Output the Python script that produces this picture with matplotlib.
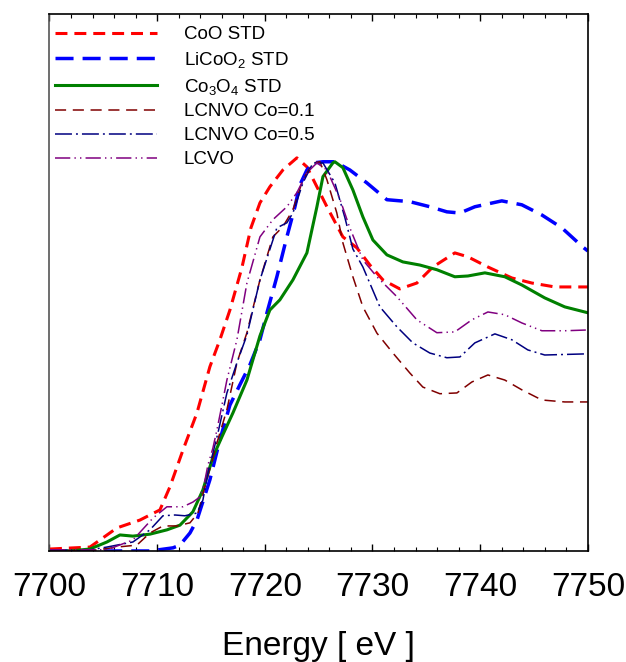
import numpy as np
import matplotlib
matplotlib.use("Agg")
import matplotlib.pyplot as plt

plt.rcParams['font.family'] = ['Liberation Sans', 'DejaVu Sans']
plt.rcParams['mathtext.default'] = 'regular'
plt.rcParams['lines.scale_dashes'] = False

E0 = 7700.0

# Co K-edge XANES, energy offsets from 7700 eV and normalised absorption
coo_e = [0.05, 3.76, 6.27, 8.4, 10.26, 11.19, 12.4, 13.7, 14.9, 15.83, 16.76, 17.87,
         18.71, 19.55, 20.47, 21.68, 22.98, 23.91, 24.84, 25.77, 27.25, 28.55, 29.76,
         30.97, 32.54, 34.12, 35.61, 37.65, 38.86, 40.72, 42.94, 44.8, 46.94, 50.0]
coo_mu = [0.005, 0.010, 0.059, 0.079, 0.105, 0.164, 0.258, 0.353, 0.471, 0.540, 0.616, 0.724,
          0.826, 0.890, 0.931, 0.974, 1.005, 0.982, 0.931, 0.880, 0.803, 0.775, 0.731,
          0.693, 0.670, 0.685, 0.726, 0.762, 0.752, 0.726, 0.698, 0.685, 0.675, 0.675]

licoo2_e = [0.05, 9.33, 11.47, 12.12, 13.05, 13.7, 14.9, 15.83, 16.76, 17.69, 18.62, 19.55,
            20.2, 21.12, 22.05, 22.8, 23.26, 23.91, 24.47, 25.4, 26.51, 27.9, 29.48, 31.34,
            33.47, 35.33, 36.91, 38.12, 39.51, 42.01, 43.87, 45.73, 47.59, 49.54, 50.0]
licoo2_mu = [0.0, 0.0, 0.008, 0.015, 0.046, 0.079, 0.182, 0.284, 0.373, 0.425, 0.476, 0.540,
             0.609, 0.701, 0.803, 0.880, 0.936, 0.974, 0.992, 0.995, 0.995, 0.974, 0.941, 0.898,
             0.893, 0.880, 0.867, 0.864, 0.880, 0.895, 0.885, 0.859, 0.826, 0.777, 0.767]

co3o4_e = [0.05, 1.9, 3.76, 5.34, 6.55, 7.75, 9.33, 10.91, 12.12, 13.32, 14.25, 15.18, 16.02,
           17.04, 18.34, 19.55, 20.47, 21.4, 22.61, 23.91, 24.84, 25.4, 26.32, 26.51, 27.25,
           28.18, 29.11, 30.04, 31.34, 32.82, 34.4, 35.98, 37.65, 38.86, 40.44, 42.29, 43.87,
           46.0, 47.86, 50.0]
co3o4_mu = [0.0, 0.0, 0.005, 0.023, 0.041, 0.038, 0.043, 0.054, 0.066, 0.100, 0.156, 0.240, 0.292,
            0.353, 0.437, 0.550, 0.616, 0.642, 0.693, 0.762, 0.880, 0.957, 0.992, 0.995, 0.980,
            0.923, 0.854, 0.795, 0.757, 0.739, 0.731, 0.719, 0.701, 0.703, 0.711, 0.701, 0.680,
            0.647, 0.624, 0.609]

lcnvo01_e = [0.05, 3.76, 6.27, 8.12, 9.33, 10.54, 11.84, 13.05, 13.79, 14.62, 15.55, 16.48,
             17.41, 18.34, 19.55, 20.75, 21.68, 22.61, 23.54, 24.47, 25.12, 25.77, 26.69, 27.25,
             28.18, 29.11, 30.41, 31.9, 33.47, 34.68, 36.26, 37.84, 39.23, 40.72, 42.29, 43.87,
             45.73, 47.86, 50.0]
lcnvo01_mu = [0.003, 0.0, 0.010, 0.015, 0.046, 0.064, 0.064, 0.072, 0.097, 0.182, 0.276, 0.361,
              0.481, 0.558, 0.693, 0.803, 0.829, 0.872, 0.949, 0.992, 0.995, 0.949, 0.864, 0.788,
              0.701, 0.624, 0.557, 0.506, 0.455, 0.419, 0.402, 0.404, 0.432, 0.450, 0.437, 0.412,
              0.386, 0.381, 0.381]

lcnvo05_e = [0.05, 3.1, 5.34, 7.75, 9.33, 10.54, 11.66, 12.58, 13.7, 14.25, 14.72, 15.65, 16.48,
             17.41, 18.34, 19.55, 21.12, 22.05, 22.61, 23.54, 24.47, 25.4, 26.51, 27.44, 28.18,
             29.11, 30.69, 32.27, 33.75, 35.33, 36.91, 38.12, 39.51, 41.37, 42.94, 44.43, 46.0,
             50.0]
lcnvo05_mu = [0.003, 0.0, 0.010, 0.023, 0.054, 0.090, 0.092, 0.090, 0.097, 0.130, 0.199, 0.302,
              0.404, 0.481, 0.552, 0.693, 0.826, 0.839, 0.864, 0.941, 0.992, 0.992, 0.941, 0.852,
              0.772, 0.726, 0.624, 0.573, 0.532, 0.506, 0.494, 0.496, 0.532, 0.555, 0.540, 0.514,
              0.501, 0.504]

lcvo_e = [0.05, 5.34, 7.75, 9.61, 10.91, 12.4, 13.32, 13.97, 14.35, 14.72, 15.18, 15.55, 16.02,
          16.48, 17.41, 18.34, 19.55, 20.75, 22.05, 22.98, 23.91, 24.84, 25.77, 26.97, 27.9,
          29.11, 30.41, 32.27, 34.12, 35.98, 37.65, 39.23, 40.72, 42.29, 43.87, 45.73, 47.86,
          50.0]
lcvo_mu = [0.003, 0.003, 0.028, 0.084, 0.113, 0.113, 0.125, 0.138, 0.168, 0.220, 0.263, 0.309,
           0.373, 0.437, 0.540, 0.685, 0.803, 0.847, 0.880, 0.916, 0.967, 0.992, 0.974, 0.900,
           0.826, 0.744, 0.701, 0.650, 0.591, 0.558, 0.560, 0.591, 0.611, 0.604, 0.583, 0.563,
           0.563, 0.565]

xticks = [7700, 7710, 7720, 7730, 7740, 7750]

fig = plt.figure(figsize=(6.26, 6.62), dpi=100)
ax = fig.add_axes([0.079, 0.1677, 0.86, 0.8113])

def ev(offsets):
    return E0 + np.asarray(offsets)

ax.plot(ev(coo_e), coo_mu, color='#FF0000', lw=2.2, dashes=(8.6, 5.0), label='CoO STD')
ax.plot(ev(licoo2_e), licoo2_mu, color='#0000FF', lw=2.5, dashes=(13.0, 6.5),
        label='LiCoO$_2$ STD')
ax.plot(ev(co3o4_e), co3o4_mu, color='#008000', lw=2.2, label='Co$_3$O$_4$ STD')
ax.plot(ev(lcnvo01_e), lcnvo01_mu, color='#800000', lw=1.1, dashes=(8.0, 4.8),
        label='LCNVO Co=0.1')
ax.plot(ev(lcnvo05_e), lcnvo05_mu, color='#000080', lw=1.1, dashes=(12.2, 2.9, 1.4, 2.9),
        label='LCNVO Co=0.5')
ax.plot(ev(lcvo_e), lcvo_mu, color='#800080', lw=1.1, dashes=(11.0, 3.0, 1.0, 3.0, 1.0, 3.0),
        label='LCVO')

ax.set_xlim(7700, 7750)
ax.set_ylim(0, 1.373)
ax.set_xticks(xticks)
ax.set_xticks(np.arange(7700, 7751, 2), minor=True)
ax.set_yticks([])
ax.tick_params(axis='x', which='both', direction='in', top=True, labelsize=24, pad=15)
ax.tick_params(axis='x', which='major', length=5, width=1)
ax.tick_params(axis='x', which='minor', length=3, width=0.8)
for s in ax.spines.values():
    s.set_linewidth(1.2)
ax.spines['left'].set_color('#555555')
ax.set_xlabel('Energy [ eV ]', fontsize=24, labelpad=20)

ax.legend(loc='upper left', bbox_to_anchor=(0.0, 0.988), frameon=False, fontsize=13.5,
          handlelength=5.45, handletextpad=1.4, labelspacing=0.36, borderpad=0.3,
          borderaxespad=0.0)

fig.savefig('out.png', dpi=100)
